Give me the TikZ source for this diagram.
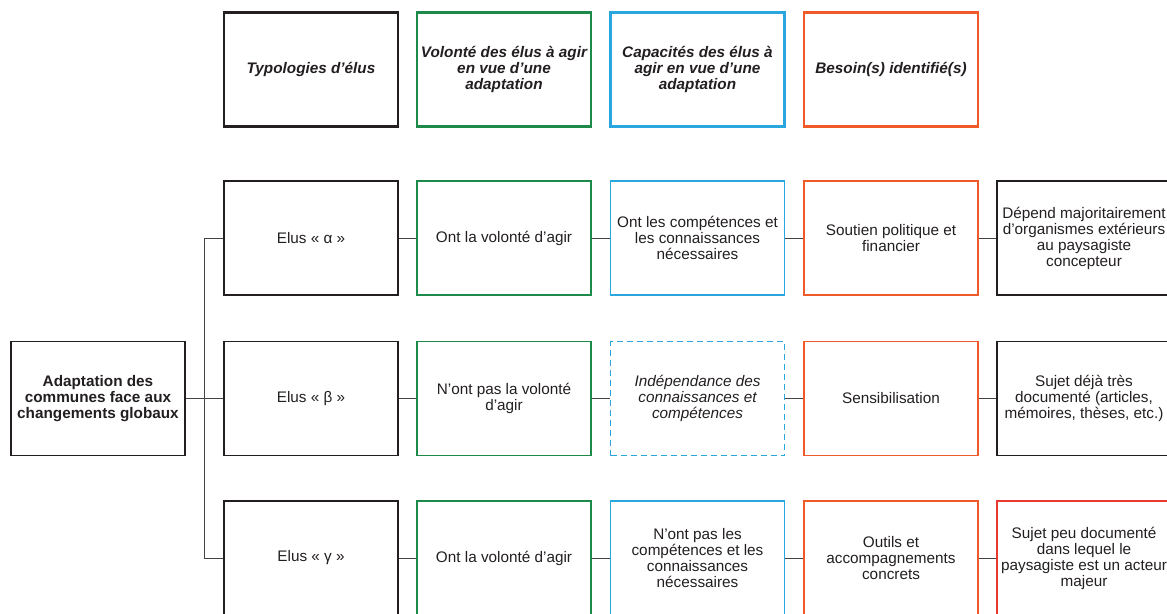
\documentclass[tikz,border=0pt]{standalone}
\usepackage{fontspec}
\setmainfont{Liberation Sans}
\definecolor{cgreen}{HTML}{1E8A4A}
\definecolor{cblue}{HTML}{2AA6DF}
\definecolor{corange}{HTML}{EF5A28}
\definecolor{cred}{HTML}{E8392F}
\definecolor{cblack}{HTML}{231F20}
\definecolor{ctext}{HTML}{231F20}
\definecolor{cline}{HTML}{444444}
\tikzset{
  box/.style={draw, rectangle, minimum width=174pt, minimum height=114pt, inner sep=0pt,
    align=center, text=ctext, font=\fontsize{15.3}{16}\selectfont, line width=1.1pt, fill=white},
  hbox/.style={box, line width=2.2pt, font=\fontsize{15.3}{16}\selectfont\bfseries\itshape},
  conn/.style={draw=cline, line width=1pt},
}
\begin{document}
\begin{tikzpicture}[x=1pt,y=-1pt]
\useasboundingbox (0,0) rectangle (1167,613);
\clip (0,0) rectangle (1167,613);
% headers
\node[hbox, draw=cblack] (h1) at (311,69.5) {Typologies d’élus};
\node[hbox, draw=cgreen] (h2) at (504,69.5) {Volonté des élus à agir\\en vue d’une\\adaptation};
\node[hbox, draw=cblue] (h3) at (697.5,69.5) {Capacités des élus à\\agir en vue d’une\\adaptation};
\node[hbox, draw=corange] (h4) at (891,69.5) {Besoin(s) identifié(s)};
% root
\node[box, draw=cblack, font=\fontsize{15.3}{16}\selectfont\bfseries] (root) at (98,398.5) {Adaptation des\\communes face aux\\changements globaux};
% row 1
\node[box, draw=cblack] (a1) at (311,238) {Elus « α »};
\node[box, draw=cgreen] (a2) at (504,238) {Ont la volonté d’agir};
\node[box, draw=cblue] (a3) at (697.5,238) {Ont les compétences et\\les connaissances\\nécessaires};
\node[box, draw=corange] (a4) at (891,238) {Soutien politique et\\financier};
\node[box, draw=cblack] (a5) at (1084,238) {Dépend majoritairement\\d’organismes extérieurs\\au paysagiste\\concepteur};
% row 2
\node[box, draw=cblack] (b1) at (311,398.5) {Elus « β »};
\node[box, draw=cgreen] (b2) at (504,398.5) {N’ont pas la volonté\\d’agir};
\node[box, draw=cblue, line width=1.5pt, dash pattern=on 6pt off 4pt, font=\fontsize{15.3}{16}\selectfont\itshape] (b3) at (697.5,398.5) {Indépendance des\\connaissances et\\compétences};
\node[box, draw=corange] (b4) at (891,398.5) {Sensibilisation};
\node[box, draw=cblack] (b5) at (1084,398.5) {Sujet déjà très\\documenté (articles,\\mémoires, thèses, etc.)};
% row 3
\node[box, draw=cblack] (c1) at (311,558) {Elus « γ »};
\node[box, draw=cgreen] (c2) at (504,558) {Ont la volonté d’agir};
\node[box, draw=cblue] (c3) at (697.5,558) {N’ont pas les\\compétences et les\\connaissances\\nécessaires};
\node[box, draw=corange] (c4) at (891,558) {Outils et\\accompagnements\\concrets};
\node[box, draw=cred] (c5) at (1084,558) {Sujet peu documenté\\dans lequel le\\paysagiste est un acteur\\majeur};
% connectors
\coordinate (t1) at (204,238);
\coordinate (t3) at (204,558);
\draw[conn] (root.east) -- (b1.west);
\draw[conn] (t1) -- (t3);
\draw[conn] (t1) -- (a1.west);
\draw[conn] (t3) -- (c1.west);
\foreach \r in {a,b,c}{
  \draw[conn] (\r1.east) -- (\r2.west);
  \draw[conn] (\r2.east) -- (\r3.west);
  \draw[conn] (\r3.east) -- (\r4.west);
  \draw[conn] (\r4.east) -- (\r5.west);
}
\end{tikzpicture}
\end{document}
